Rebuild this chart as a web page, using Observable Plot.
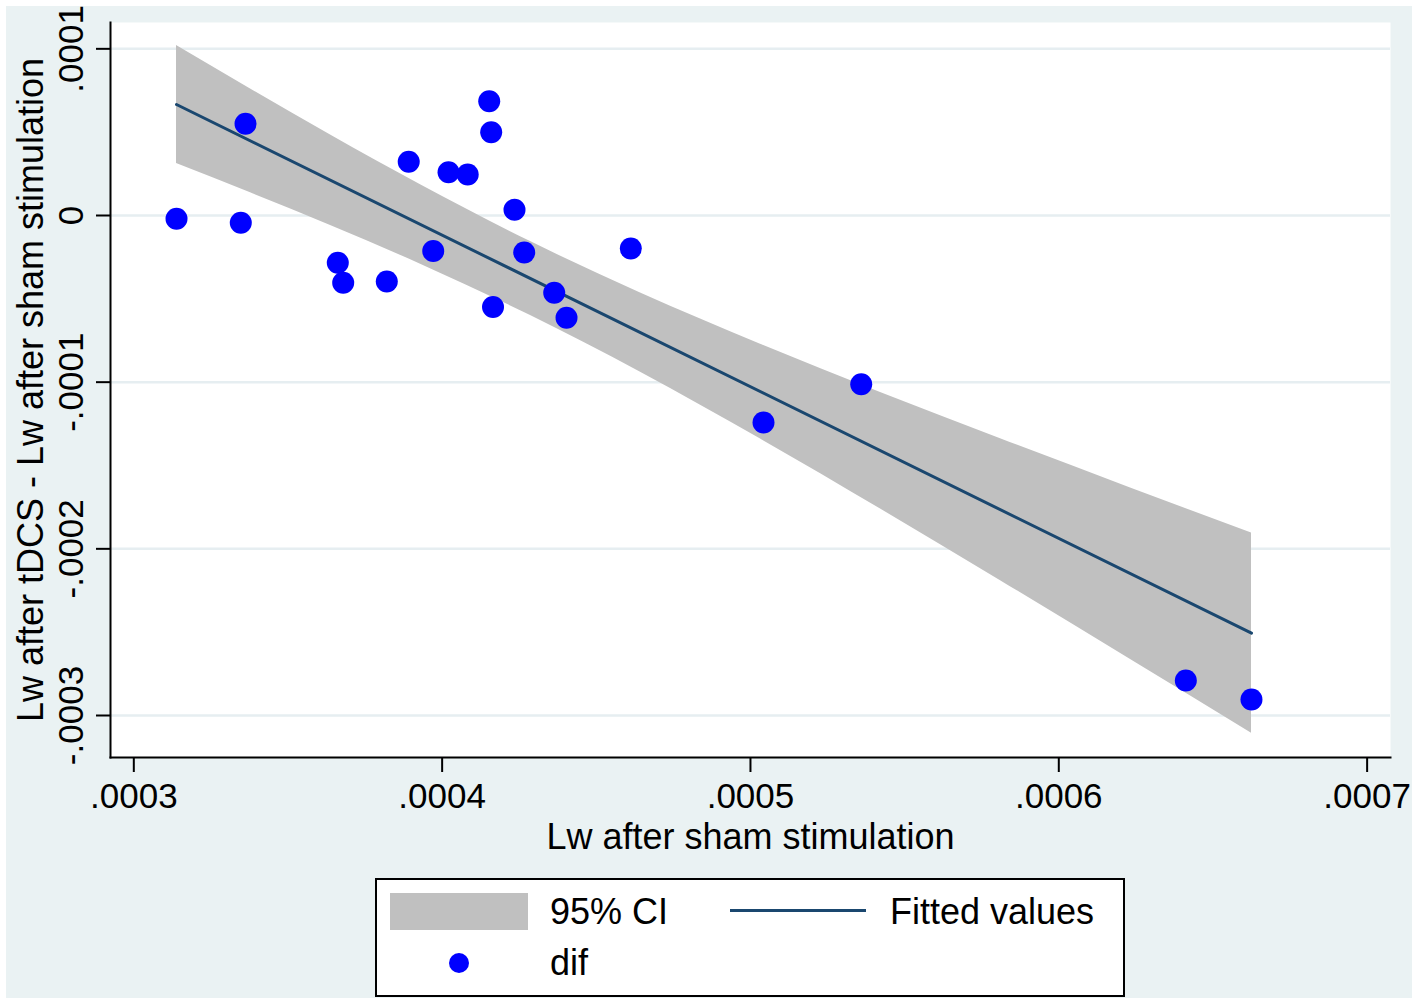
<!DOCTYPE html>
<html>
<head>
<meta charset="utf-8">
<script src="https://cdn.jsdelivr.net/npm/d3@7"></script>
<script src="https://cdn.jsdelivr.net/npm/@observablehq/plot@0.6"></script>
<style>
  html, body { margin: 0; padding: 0; background: #ffffff; }
  body { width: 1418px; height: 1005px; position: relative; overflow: hidden;
         font-family: "Liberation Sans", Arial, Helvetica, sans-serif; }
  #bg { position: absolute; left: 6px; top: 6px; width: 1406px; height: 992px; background: #eaf2f3; }
  #chart { position: absolute; left: 0; top: 0; }
  #legend { position: absolute; left: 375px; top: 878px; width: 750px; height: 119px;
            box-sizing: border-box; border: 2px solid #000; background: #fff; }
  #legend .sw { position: absolute; }
  #legend .lab { position: absolute; font-size: 36px; line-height: 40px; height: 40px; white-space: nowrap; color: #000; }
</style>
</head>
<body>
<div id="bg"></div>
<div id="chart"></div>
<div id="legend">
  <div class="sw" style="left:13px;top:13px;width:138px;height:37px;background:#c0c0c0;"></div>
  <div class="lab" style="left:173px;top:12px;">95% CI</div>
  <div class="sw" style="left:353px;top:29px;width:136px;height:3px;background:#1a476f;"></div>
  <div class="lab" style="left:513px;top:12px;">Fitted values</div>
  <div class="sw" style="left:72px;top:73px;width:20px;height:20px;border-radius:50%;background:#0000ff;"></div>
  <div class="lab" style="left:173px;top:63px;">dif</div>
</div>
<script>
// Scatter points: Lw after sham stimulation (x) vs difference (y)
const shamX = [3.1385e-4, 3.3623e-4, 3.3470e-4, 3.6616e-4, 3.6791e-4, 3.8205e-4, 3.8916e-4, 3.9711e-4,
               4.0207e-4, 4.0829e-4, 4.1527e-4, 4.1591e-4, 4.1650e-4, 4.2347e-4, 4.2662e-4, 4.3635e-4,
               4.4034e-4, 4.6119e-4, 5.0423e-4, 5.3592e-4, 6.4120e-4, 6.6249e-4];
const difY  = [-0.0198e-4, 0.5502e-4, -0.0438e-4, -0.2838e-4, -0.4038e-4, -0.3960e-4, 0.3222e-4, -0.2130e-4,
               0.2598e-4, 0.2460e-4, 0.6852e-4, 0.4998e-4, -0.5490e-4, 0.0342e-4, -0.2220e-4, -0.4638e-4,
               -0.6138e-4, -0.1980e-4, -1.2420e-4, -1.0122e-4, -2.7900e-4, -2.9039e-4];

// Fitted values line
const fitX = [3.1385e-4, 6.6250e-4];
const fitY = [0.6660e-4, -2.5062e-4];

// 95% CI band
const bandX  = [3.1385e-4, 3.3785e-4, 3.6380e-4, 3.9299e-4, 4.2866e-4, 4.6434e-4, 5.0326e-4, 5.4218e-4, 5.8110e-4, 6.2326e-4, 6.6250e-4];
const bandHi = [1.0200e-4, 0.7590e-4, 0.4830e-4, 0.1842e-4, -0.1566e-4, -0.4656e-4, -0.7728e-4, -1.0614e-4, -1.3392e-4, -1.6344e-4, -1.9056e-4];
const bandLo = [0.3120e-4, 0.1362e-4, -0.0594e-4, -0.2922e-4, -0.6006e-4, -0.9408e-4, -1.3416e-4, -1.7610e-4, -2.1912e-4, -2.6640e-4, -3.1068e-4];

// Axis ticks and titles
const xTicks = [0.0003, 0.0004, 0.0005, 0.0006, 0.0007];
const yTicks = [0.0001, 0, -0.0001, -0.0002, -0.0003];
const xTitle = "Lw after sham stimulation";
const yTitle = "Lw after tDCS - Lw after sham stimulation";

const fmt = d => {
  if (Math.abs(d) < 1e-12) return "0";
  return (+d).toFixed(4).replace(/^(-?)0\./, "$1.");
};

const points = shamX.map((x, i) => ({x, y: difY[i]}));
const fit = fitX.map((x, i) => ({x, y: fitY[i]}));
const band = bandX.map((x, i) => ({x, lo: bandLo[i], hi: bandHi[i]}));

const chart = Plot.plot({
  width: 1418,
  height: 870,
  marginLeft: 110,
  marginRight: 28,
  marginTop: 22,
  marginBottom: 113,
  style: { background: "transparent", color: "#000", fontFamily: "'Liberation Sans', Arial, Helvetica, sans-serif" },
  x: { domain: [2.9244e-4, 7.0758e-4] },
  y: { domain: [-3.252e-4, 1.158e-4] },
  marks: [
    Plot.frame({ fill: "#ffffff", stroke: null }),
    Plot.gridY(yTicks, { stroke: "#e6eef1", strokeOpacity: 1, strokeWidth: 2.5 }),
    Plot.areaY(band, { x: "x", y1: "lo", y2: "hi", fill: "#c0c0c0", curve: "monotone-x" }),
    Plot.line(fit, { x: "x", y: "y", stroke: "#1a476f", strokeWidth: 3 }),
    Plot.dot(points, { x: "x", y: "y", r: 11, fill: "#0000ff", stroke: null }),
    Plot.frame({ anchor: "left", stroke: "#000", strokeWidth: 2 }),
    Plot.frame({ anchor: "bottom", stroke: "#000", strokeWidth: 2 }),
    Plot.axisX(xTicks, { tickSize: 15, tickPadding: 11, tickFormat: fmt, fontSize: 35, strokeWidth: 2, label: null }),
    Plot.axisY(yTicks, { tickSize: 14, tickPadding: 14, tickRotate: -90, tickFormat: fmt, fontSize: 35, strokeWidth: 2, label: null }),
    Plot.text([xTitle], { frameAnchor: "bottom", dy: 91, lineAnchor: "bottom", fontSize: 36, text: d => d }),
    Plot.text([yTitle], { frameAnchor: "left", dx: -68, rotate: -90, lineAnchor: "bottom", textAnchor: "middle", fontSize: 36, text: d => d })
  ]
});
document.getElementById("chart").appendChild(chart);
</script>
</body>
</html>
